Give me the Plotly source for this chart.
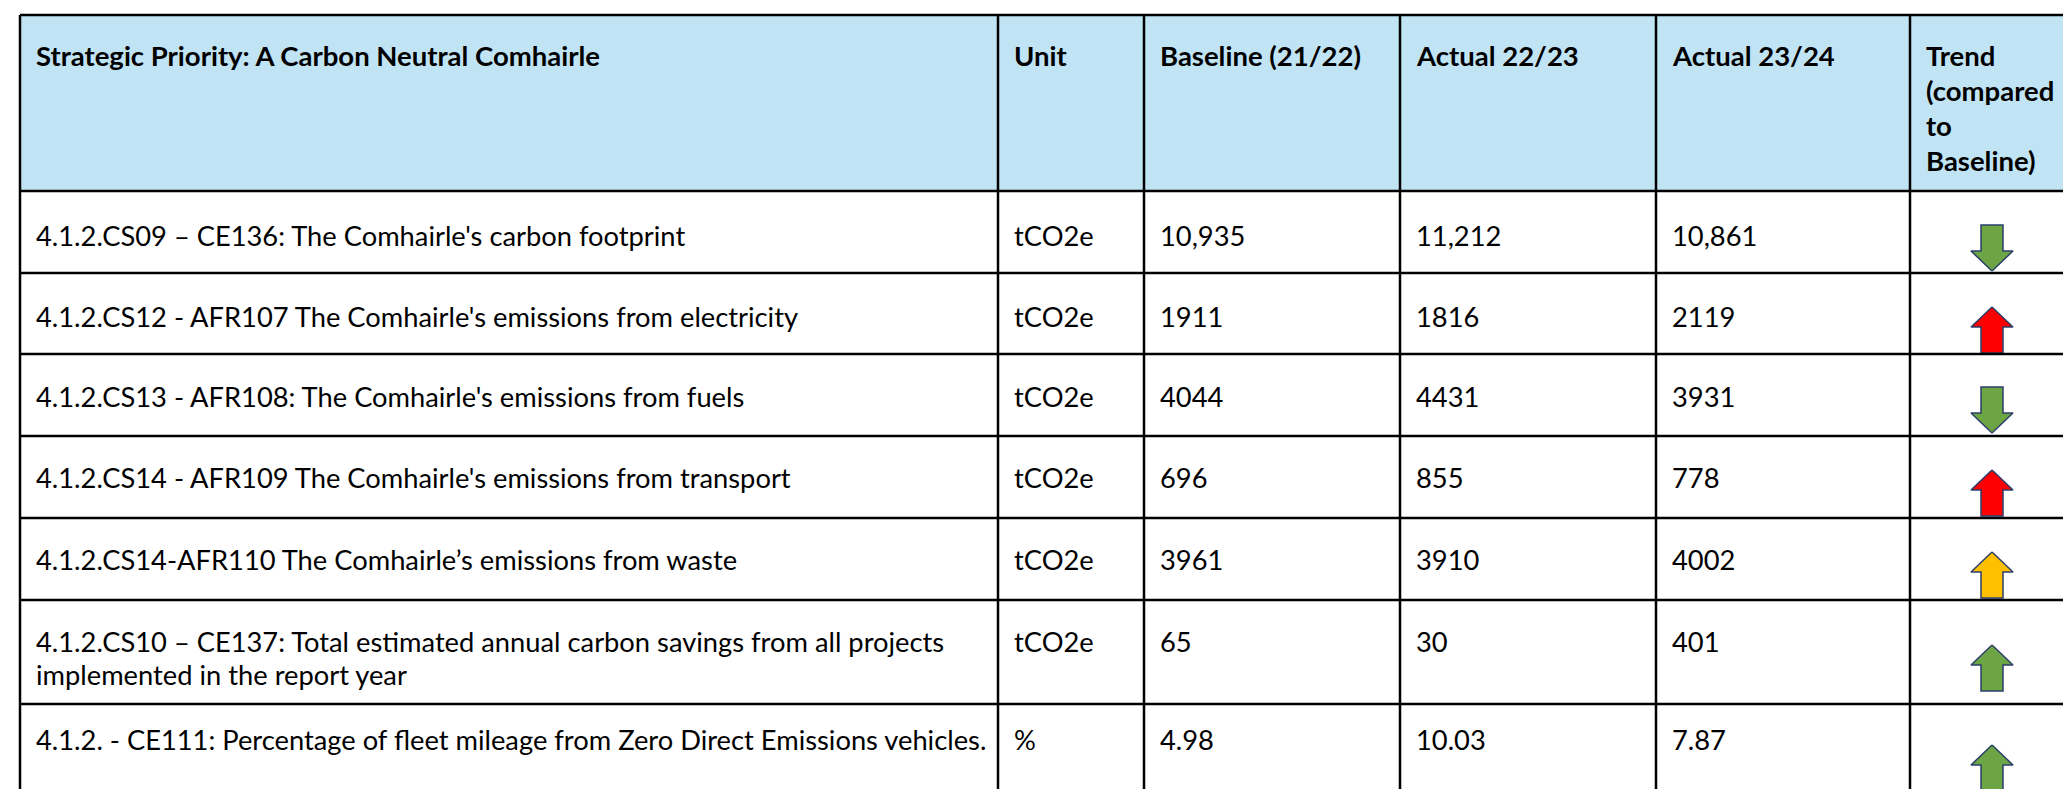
import plotly.graph_objects as go

# ---- table data ----
header = ["Strategic Priority: A Carbon Neutral Comhairle", "Unit", "Baseline (21/22)",
          "Actual 22/23", "Actual 23/24", "Trend<br>(compared<br>to<br>Baseline)"]

indicators = [
    "4.1.2.CS09 \u2013 CE136: The Comhairle's carbon footprint",
    "4.1.2.CS12 - AFR107 The Comhairle's emissions from electricity",
    "4.1.2.CS13 - AFR108: The Comhairle's emissions from fuels",
    "4.1.2.CS14 - AFR109 The Comhairle's emissions from transport",
    "4.1.2.CS14-AFR110 The Comhairle\u2019s emissions from waste",
    "4.1.2.CS10 \u2013 CE137: Total estimated annual carbon savings from all projects<br>implemented in the report year",
    "4.1.2. - CE111: Percentage of fleet mileage from Zero Direct Emissions vehicles.",
]
units = ["tCO2e", "tCO2e", "tCO2e", "tCO2e", "tCO2e", "tCO2e", "%"]
baseline_2122 = [10935, 1911, 4044, 696, 3961, 65, 4.98]
actual_2223 = [11212, 1816, 4431, 855, 3910, 30, 10.03]
actual_2324 = [10861, 2119, 3931, 778, 4002, 401, 7.87]
trend_dir = ["down", "up", "down", "up", "up", "up", "up"]
trend_rating = ["good", "bad", "good", "bad", "amber", "good", "good"]

# ---- layout geometry (pixels) ----
W, H = 2071, 789
col_edges = [12, 990, 1136, 1392, 1648, 1902, 2066]
row_edges = [7, 183, 265, 346, 428, 510, 592, 696, 820]
text_offset = [54, 53, 52, 51, 51, 51, 45]     # first-line cap centre below row top
arrow_offset = [57, 57, 56, 57, 57, 68, 64]    # arrow centre below row top
pad = 14
body_lh, head_lh = 33, 35
shift = -10  # annotation middle vs. cap centre

FONT = "Lato, Carlito, Calibri, sans-serif"
FS_BODY, FS_HEAD = 27.3, 27.5
header_bg = "#C1E4F5"
rating_colour = {"good": "#6DA544", "bad": "#FF0000", "amber": "#FFC000"}
outline = "#2B3F6B"


def fmt(v):
    return f"{v:,}" if v >= 10000 else str(v)


fig = go.Figure()

shapes = [dict(type="rect", xref="x", yref="y", x0=col_edges[0], x1=col_edges[-1],
               y0=row_edges[0], y1=row_edges[1], fillcolor=header_bg, line_width=0,
               layer="below")]
for y in row_edges:
    shapes.append(dict(type="line", xref="x", yref="y", x0=col_edges[0], x1=col_edges[-1],
                       y0=y, y1=y, line=dict(color="black", width=2.5)))
for x in col_edges:
    shapes.append(dict(type="line", xref="x", yref="y", x0=x, x1=x,
                       y0=row_edges[0], y1=row_edges[-1], line=dict(color="black", width=2.5)))

annotations = []


def add_cell(text, x, y0, lh, size, bold=False):
    for i, line in enumerate(text.split("<br>")):
        annotations.append(dict(x=x, y=y0 + i * lh + shift, xref="x", yref="y",
                                text=f"<b>{line}</b>" if bold else line,
                                showarrow=False, xanchor="left", yanchor="middle", align="left",
                                font=dict(family=FONT, size=size, color="black")))


# header labels
for c, lab in enumerate(header):
    add_cell(lab, col_edges[c] + pad, row_edges[0] + 50, head_lh, FS_HEAD, bold=True)

# body cells (all cells top aligned on the first line)
for r in range(len(indicators)):
    top = row_edges[r + 1]
    vals = [indicators[r], units[r], fmt(baseline_2122[r]), fmt(actual_2223[r]), fmt(actual_2324[r])]
    for c, v in enumerate(vals):
        add_cell(v, col_edges[c] + pad, top + text_offset[r], body_lh, FS_BODY)

# trend arrows
ah, hh, hw, bw = 46, 20, 21, 11
cx = (col_edges[5] + col_edges[6]) / 2
for r, d in enumerate(trend_dir):
    cy = row_edges[r + 1] + arrow_offset[r]
    s = -1 if d == "up" else 1
    tip = cy + s * ah / 2
    base = cy - s * ah / 2
    neck = tip - s * hh
    xs = [cx, cx + hw, cx + bw, cx + bw, cx - bw, cx - bw, cx - hw, cx]
    ys = [tip, neck, neck, base, base, neck, neck, tip]
    fig.add_trace(go.Scatter(x=xs, y=ys, mode="lines", fill="toself",
                             fillcolor=rating_colour[trend_rating[r]],
                             line=dict(color=outline, width=1.5),
                             hoverinfo="skip", showlegend=False))

fig.update_layout(
    width=W, height=H,
    margin=dict(l=0, r=0, t=0, b=0),
    paper_bgcolor="white", plot_bgcolor="white",
    xaxis=dict(range=[0, W], visible=False, fixedrange=True),
    yaxis=dict(range=[H, 0], visible=False, fixedrange=True),
    shapes=shapes, annotations=annotations,
)

fig.write_html("out.html")
